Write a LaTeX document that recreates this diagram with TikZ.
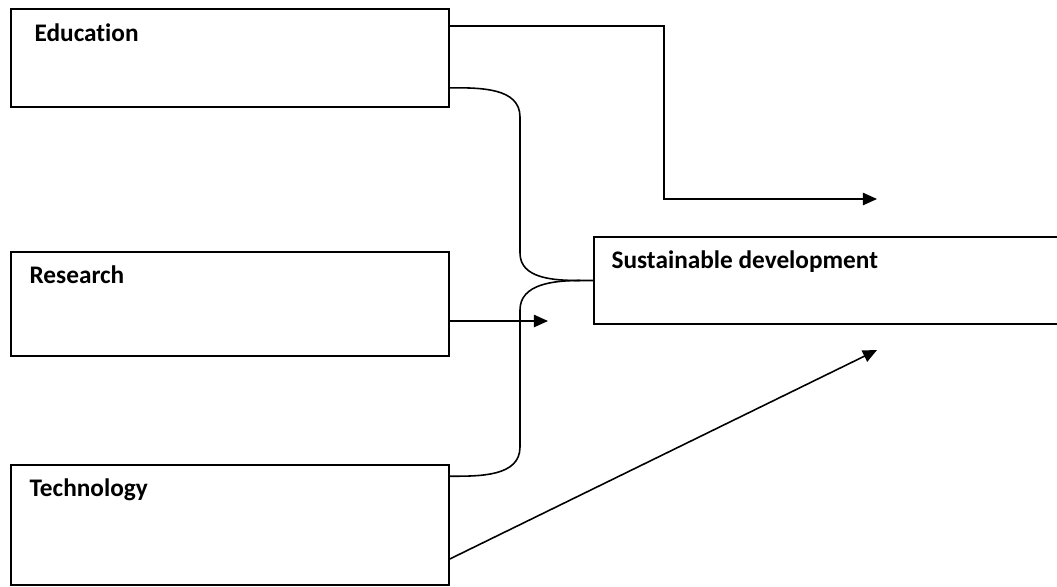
\documentclass[tikz,border=0pt]{standalone}
\usepackage{fontspec}
\setmainfont{Carlito}[Ligatures=NoCommon]
\usepackage{tikz}
\usetikzlibrary{arrows.meta}

\begin{document}
\begin{tikzpicture}[x=0.02cm,y=-0.02cm,
    box/.style={draw,line width=0.9pt,inner sep=0pt,rectangle},
    lbl/.style={anchor=base west,inner sep=0pt,font=\fontsize{14.4}{16}\bfseries},
    arr/.style={line width=0.9pt,-{Triangle[length=8pt,width=7pt]}},
    link/.style={line width=0.9pt}]
    \useasboundingbox (0,0) rectangle (1057,586);
    % boxes
    \node[box,minimum width=8.76cm,minimum height=1.96cm] (edu) at (230,58) {};
    \node[box,minimum width=8.76cm,minimum height=2.08cm] (res) at (230,304) {};
    \node[box,minimum width=8.76cm,minimum height=2.4cm] (tech) at (230,525) {};
    \node[box,minimum width=9.6cm,minimum height=1.74cm] (sd) at (834,280.5) {};
    \node[lbl] (edutext) at ([shift={(24,33)}]edu.north west) {Education};
    \node[lbl] (restext) at ([shift={(19,32)}]res.north west) {Research};
    \node[lbl] (techtext) at ([shift={(19,32)}]tech.north west) {Technology};
    \node[lbl] (sdtext) at ([shift={(18,32)}]sd.north west) {Sustainable development};
    %
    \coordinate (tip) at (580,280.5);
    \coordinate (eduend) at (877,199);
    \coordinate (resend) at (548,321);
    \coordinate (techend) at (877,350);
    % connectors
    \draw[arr] ([yshift=-0.36cm]edu.north east) -- ++(214,0) |- (eduend);
    \draw[link] ([yshift=0.4cm]edu.south east)
      to [out=0,in=90] (520,117) -- (520,253)
      to [out=-90,in=180] (tip) -- (sd.west);
    \draw[link] (tip)
      to [out=180,in=90] (520,310) -- (520,447)
      to [out=-90,in=0] ([yshift=-0.24cm]tech.north east);
    \draw[arr] ([yshift=-0.34cm]res.east) -- (resend);
    \draw[arr] ([yshift=-0.68cm]tech.east) -- (techend);
\end{tikzpicture}
\end{document}
